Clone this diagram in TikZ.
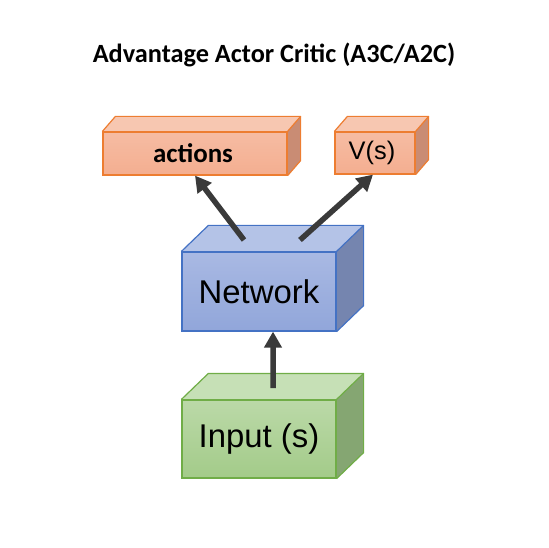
\documentclass[tikz,border=0pt]{standalone}
\usepackage{fontspec}
\setmainfont{Liberation Sans}
\newfontfamily\carl{Carlito}
\usetikzlibrary{arrows.meta,calc}
\definecolor{oedge}{HTML}{ED7D31}
\definecolor{ofront}{HTML}{F4AE90}
\definecolor{ofronttop}{HTML}{F6BCA3}
\definecolor{otop}{HTML}{F7C7B1}
\definecolor{oside}{HTML}{C98C74}
\definecolor{bedge}{HTML}{4472C4}
\definecolor{bfront}{HTML}{91A6DA}
\definecolor{bfronttop}{HTML}{A9B9E3}
\definecolor{btop}{HTML}{B4C3E7}
\definecolor{bside}{HTML}{7585AF}
\definecolor{gedge}{HTML}{70AD47}
\definecolor{gfront}{HTML}{A3CB89}
\definecolor{gfronttop}{HTML}{BBD9A8}
\definecolor{gtop}{HTML}{C6E0B6}
\definecolor{gside}{HTML}{85A672}
\definecolor{arr}{HTML}{3A3A3A}
\tikzset{
  front/.style={draw=#1edge, line width=1.2bp, top color=#1fronttop, bottom color=#1front, inner sep=0pt, anchor=center},
  face/.style={draw=#1edge, line width=1.2bp, line join=round},
  conn/.style={draw=arr, line width=5.5bp, -{Triangle[length=16bp,width=17bp]}, shorten >=0pt},
}
\begin{document}
\begin{tikzpicture}[x=1bp,y=-1bp]
\useasboundingbox (0,0) rectangle (549,548);
% title
\node[font=\carl\bfseries\fontsize{26.4}{30}\selectfont] (title) at (274,55) {Advantage Actor Critic (A3C/A2C)};
% Network
\node[front=b, minimum width=154bp, minimum height=79bp] (net) at (259,291.5) {};
\fill[btop] (net.north west) -- ++(27,-26) -- ($(net.north east)+(27,-26)$) -- (net.north east) -- cycle;
\fill[bside] (net.north east) -- ++(27,-26) -- ($(net.south east)+(27,-26)$) -- (net.south east) -- cycle;
\draw[face=b] (net.north west) -- ++(27,-26) -- ($(net.north east)+(27,-26)$) -- ($(net.south east)+(27,-26)$) -- (net.south east);
\draw[face=b] (net.north east) -- ++(27,-26);
\node[front=b, minimum width=154bp, minimum height=79bp, font=\fontsize{33}{38}\selectfont] at (net.center) {Network};
% Input
\node[front=g, minimum width=154bp, minimum height=78bp] (inp) at (259,439) {};
\fill[gtop] (inp.north west) -- ++(27,-26) -- ($(inp.north east)+(27,-26)$) -- (inp.north east) -- cycle;
\fill[gside] (inp.north east) -- ++(27,-26) -- ($(inp.south east)+(27,-26)$) -- (inp.south east) -- cycle;
\draw[face=g] (inp.north west) -- ++(27,-26) -- ($(inp.north east)+(27,-26)$) -- ($(inp.south east)+(27,-26)$) -- (inp.south east);
\draw[face=g] (inp.north east) -- ++(27,-26);
\node[front=g, minimum width=154bp, minimum height=78bp, font=\fontsize{33}{38}\selectfont] at (inp.center) {Input (s)};
% actions
\node[front=o, minimum width=184bp, minimum height=43bp] (act) at (195,153.5) {};
\fill[otop] (act.north west) -- ++(13,-15) -- ($(act.north east)+(13,-15)$) -- (act.north east) -- cycle;
\fill[oside] (act.north east) -- ++(13,-15) -- ($(act.south east)+(13,-15)$) -- (act.south east) -- cycle;
\draw[face=o] (act.north west) -- ++(13,-15) -- ($(act.north east)+(13,-15)$) -- ($(act.south east)+(13,-15)$) -- (act.south east);
\draw[face=o] (act.north east) -- ++(13,-15);
\node[front=o, minimum width=184bp, minimum height=43bp, text width=184bp, align=center, font=\carl\bfseries\fontsize{27}{30}\selectfont] at (act.center) {\hspace*{-4bp}actions};
% V(s)
\node[front=o, minimum width=80bp, minimum height=42bp] (val) at (375,153) {};
\fill[otop] (val.north west) -- ++(13,-15) -- ($(val.north east)+(13,-15)$) -- (val.north east) -- cycle;
\fill[oside] (val.north east) -- ++(13,-15) -- ($(val.south east)+(13,-15)$) -- (val.south east) -- cycle;
\draw[face=o] (val.north west) -- ++(13,-15) -- ($(val.north east)+(13,-15)$) -- ($(val.south east)+(13,-15)$) -- (val.south east);
\draw[face=o] (val.north east) -- ++(13,-15);
\node[front=o, minimum width=80bp, minimum height=42bp, text width=80bp, align=center, font=\fontsize{25.5}{30}\selectfont] at (val.center) {\hspace*{-6bp}V(s)};
% connectors
\coordinate (n1) at (244,240);
\coordinate (n2) at (300,240);
\coordinate (i1) at (273,388);
\draw[conn] (n1) -- (act.south);
\draw[conn] (n2) -- ([xshift=-2bp]val.south);
\draw[conn] (i1) -- ([xshift=14bp]net.south);
\end{tikzpicture}
\end{document}
